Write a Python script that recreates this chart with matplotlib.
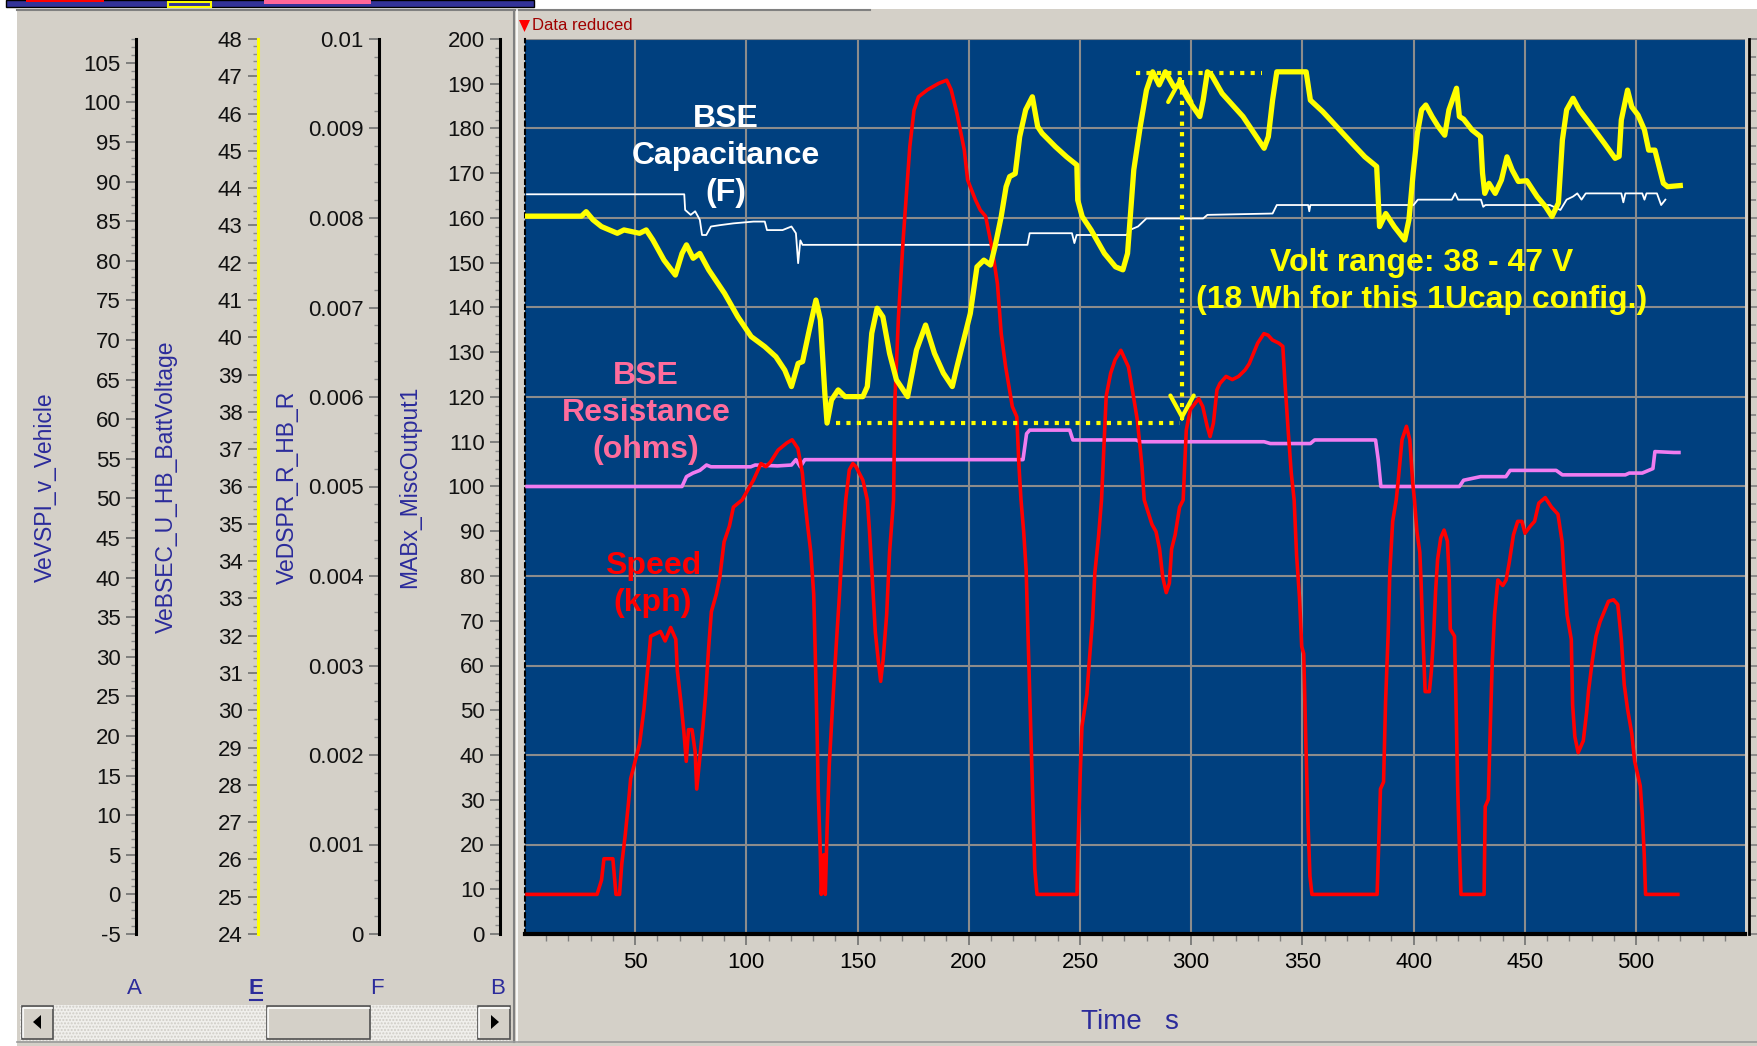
import matplotlib
matplotlib.use('Agg')
import matplotlib.pyplot as plt
from matplotlib.patches import Rectangle, Polygon
from matplotlib.lines import Line2D
from matplotlib.ticker import MultipleLocator, FuncFormatter

plt.rcParams['font.family'] = ['Liberation Sans', 'DejaVu Sans']

# ---- values ----
# vehicle speed, kph (axis A)
speed_t = [1.4, 32.9, 34.9, 36, 40, 41.4, 43, 44, 45.6, 47, 48, 52, 54, 55, 57, 61.4, 63.5, 66, 68.3, 69,
           70.6, 72, 73, 74, 75.6, 77, 77.7, 79.4, 80.5, 81.7, 83.1, 84.3, 86.5, 88.1, 90, 92.4, 94.2, 98.1,
           103.2, 106.6, 108.8, 110.9, 114.3, 118.2, 120.6, 123.2, 125.2, 126.3, 127.5, 129, 130.3, 131,
           131.9, 132.3, 133.2, 133.7, 134.8, 135.5, 136.3, 137.3, 138.7, 140.3, 141.8, 143.3, 144.7, 146.3,
           147.9, 149.3, 152.4, 154.4, 155.4, 156.5, 158, 159.5, 160.4, 161.5, 163.1, 164.4, 166.2, 166.8,
           168.4, 170.5, 173.5, 175.4, 177.4, 181.5, 186.5, 190.1, 192.1, 194.7, 198, 199.5, 203, 205.2,
           207.6, 210.6, 212.9, 214.6, 216.6, 219.6, 221.6, 222.6, 223.5, 224.7, 225.8, 226.7, 227.7, 228.7,
           229.7, 230.7, 248.7, 249.1, 250.1, 250.9, 253.1, 254.1, 255.7, 256.7, 258.3, 259.7, 261.8, 263.8,
           265.8, 268.4, 271.8, 273.8, 275.8, 277.9, 278.9, 282.4, 284.2, 285.8, 287.2, 288.8, 290.2, 291.2,
           292.8, 294.8, 296.4, 297.8, 299.6, 303.4, 305.2, 307.2, 308.5, 310, 311.6, 312.9, 315.7, 318.5,
           321.3, 324.2, 326.1, 328, 329.9, 332.7, 334.6, 336.5, 339.4, 341.2, 342.2, 343.7, 345, 346.3,
           347.4, 348.7, 349.7, 350.6, 351.5, 352.5, 353.4, 354.3, 383.6, 384.2, 385.1, 386.5, 387.4, 388.6,
           389.3, 390.6, 392.2, 393, 394.8, 396.8, 398.3, 399.6, 400.4, 401.5, 402.8, 403.4, 404.3, 405.2,
           407.1, 408, 409, 409.9, 410.8, 412.2, 413.7, 415.2, 416, 416.5, 418.4, 419, 419.8, 420.7, 421.3,
           431.7, 432.2, 433.6, 434.5, 435.4, 436.4, 437.9, 440.1, 441.6, 443, 444.9, 446.8, 448.7, 450.1,
           452.5, 454.4, 456.3, 459.2, 462, 464.9, 466.8, 467.7, 469, 470.9, 471.5, 472.5, 474, 476.3, 477.8,
           478.7, 480.4, 482, 483.8, 485.7, 487.6, 489.9, 491.8, 493.4, 494.7, 496.2, 498.1, 499.4, 501.9,
           502.8, 503.7, 504.3, 518.8]
speed_kph = [0, 0, 1.8, 4.5, 4.5, 0, 0, 3.8, 7.6, 11.5, 14.6, 19, 23.4, 26.5, 32.6, 33.2, 32, 33.7, 32.2, 28.2,
             24.3, 20.3, 16.8, 20.8, 20.8, 18, 13.3, 18.1, 21.2, 25.2, 31.3, 35.7, 37.9, 40.1, 44.5, 46.5, 48.9,
             49.8, 52.3, 54.4, 54, 54.6, 56.1, 57, 57.4, 56.3, 53.2, 49.8, 46.7, 43.2, 37.9, 30.4, 19.4, 13.3,
             5.8, 0, 5, 0, 8, 16.4, 23.4, 30.9, 37.5, 44.5, 49.8, 53.6, 54.4, 54, 52.3, 49.8, 45.8, 40.6, 33.1,
             29.1, 26.9, 29.6, 35.3, 43.2, 49.8, 62.4, 72.9, 82.6, 94.4, 99, 100.7, 101.6, 102.4, 102.8, 101.6,
             98.6, 94, 90.2, 87.7, 86.4, 85.6, 81.4, 77.1, 70.8, 66.6, 61.6, 60.3, 54, 49.8, 45.8, 41, 32.2,
             22.5, 12.8, 3.2, 0, 0, 5.8, 15, 21.2, 25.2, 29.1, 34.8, 40.6, 45, 49.8, 62.9, 65.8, 67.5, 68.7,
             66.6, 63.3, 59.9, 54, 49.8, 46.7, 45.8, 43.6, 40.1, 38.1, 39.3, 43.6, 45.4, 48.9, 49.8, 58.6, 61.2,
             62.6, 61.6, 59.1, 57.8, 59.5, 63.7, 64.5, 65.4, 65, 65.4, 66.2, 67, 68.3, 69.6, 70.8, 70.6, 70,
             69.6, 69.2, 64.5, 58.2, 53.2, 49.8, 42.8, 37.5, 31.3, 30.4, 19.9, 9.3, 2.3, 0, 0, 5.4, 13.3, 14.2,
             24.3, 33.1, 40.6, 47.1, 49.8, 52, 57.4, 59.1, 57.4, 52, 49.8, 45.8, 43.2, 39.2, 31.8, 25.6, 25.6,
             28.2, 32.6, 38.3, 42.3, 45, 46, 44.6, 40.1, 33.5, 32.6, 25.2, 13.7, 5, 0, 0, 11.1, 12, 21.2, 29.6,
             35.3, 39.7, 39, 39.7, 41.9, 45.4, 47.1, 47.1, 45.6, 46.5, 47.1, 49.4, 50.1, 48.9, 48, 44.5, 40.1,
             35.3, 32.2, 23.9, 19.9, 17.9, 19.4, 23, 25.8, 29.6, 32.6, 34.4, 35.7, 37, 37.2, 36.6, 32.2, 26.5,
             23.4, 20.3, 16.8, 13.7, 10.2, 5, 0, 0]

# BSE battery voltage, V (axis E)
volt_t = [1.4, 25.9, 28, 31.1, 34.9, 42, 45, 52, 55, 58, 63, 68.1, 71.1, 73.1, 76.1, 79.1, 83.1, 90.2, 96.2,
          102.2, 108.3, 113.3, 117.3, 120.3, 123.3, 125.3, 128, 131.3, 133.3, 135.3, 136.3, 138.3, 141.3,
          144.4, 152.4, 154.4, 156.4, 158.8, 161.4, 164.4, 167.5, 172.5, 176.5, 180.6, 184.6, 188.6, 192.6,
          194.7, 197.7, 200.7, 203.7, 206.8, 209.8, 211.8, 214.6, 216.8, 218.4, 220.9, 222.9, 225.6, 228.6,
          231, 233, 239, 244, 248.6, 249, 251, 255, 261, 266, 269.3, 271.4, 274.2, 277.1, 279.9, 282.7,
          285.6, 288.4, 292.2, 295, 298.8, 303.9, 305.4, 307.3, 309.2, 313.9, 323.3, 332.8, 334.7, 336.6,
          338.5, 351.7, 353.6, 359.2, 366.8, 372.4, 378.1, 383.4, 384.1, 384.7, 387.5, 391.3, 396, 397.9,
          399.8, 401.7, 403.6, 405.5, 408.3, 411.1, 414, 415.9, 419.3, 420.6, 422.5, 426.3, 430.1, 431, 432,
          433.9, 436.7, 439.5, 442, 444.3, 447.1, 450.9, 455.6, 459.4, 462.2, 465.1, 466.9, 468.8, 471.7,
          474.5, 480.2, 485.8, 490.6, 492.4, 493.4, 496.2, 498.1, 500.9, 503.8, 505.7, 508.5, 510.4, 512.3,
          514.2, 519.9]
volt_v = [43.25, 43.25, 43.37, 43.15, 42.97, 42.79, 42.88, 42.79, 42.88, 42.61, 42.07, 41.67, 42.25, 42.48,
          42.12, 42.25, 41.81, 41.18, 40.55, 40.02, 39.75, 39.48, 39.12, 38.68, 39.3, 39.35, 40.11, 41,
          40.47, 38.5, 37.7, 38.32, 38.59, 38.41, 38.41, 38.68, 40.11, 40.78, 40.55, 39.57, 38.86, 38.41,
          39.66, 40.33, 39.57, 39.04, 38.68, 39.21, 39.93, 40.64, 41.89, 42.07, 41.94, 42.43, 43.24, 44.04,
          44.31, 44.39, 45.38, 46.1, 46.45, 45.65, 45.47, 45.11, 44.84, 44.62, 43.68, 43.24, 42.88, 42.25,
          41.89, 41.81, 42.25, 44.49, 45.65, 46.63, 47.12, 46.77, 47.12, 46.72, 46.75, 46.36, 45.92, 46.36,
          47.12, 47.03, 46.54, 45.92, 45.07, 45.38, 46.36, 47.12, 47.12, 46.36, 46.05, 45.56, 45.2, 44.84,
          44.58, 43.68, 42.97, 43.32, 42.97, 42.61, 43.15, 44.4, 45.47, 46.1, 46.23, 45.92, 45.65, 45.42,
          46.1, 46.68, 45.92, 45.85, 45.56, 45.38, 44.4, 43.86, 44.13, 43.86, 44.22, 44.84, 44.49, 44.18,
          44.2, 43.77, 43.5, 43.24, 43.6, 45.29, 46.1, 46.41, 46.1, 45.65, 45.2, 44.8, 44.85, 45.83, 46.63,
          46.18, 45.96, 45.56, 45.02, 45.02, 44.58, 44.13, 44.04, 44.07]

# BSE capacitance, F (axis B)
cap_t = [1.4, 72.1, 72.5, 75, 77, 79.1, 80.1, 82, 84.1, 88.1, 94.2, 103.2, 108.3, 109.3, 116.3, 120.3, 122.3,
         123.3, 124.3, 125.3, 226.4, 227.4, 246.4, 247.5, 248.5, 271.1, 272.3, 276.1, 279.9, 305.4, 307.3,
         336.6, 338.5, 352.6, 353.1, 353.6, 400, 401.9, 417.2, 418.7, 420, 430.3, 431.3, 432.3, 461.3, 466,
         468.8, 471.7, 473.6, 475.5, 477.4, 493.4, 494.3, 495.2, 502.8, 503.8, 504.7, 509.4, 511.3, 513.2]
cap_f = [165.3, 165.3, 161.8, 160.7, 161.5, 159.6, 156.2, 156.2, 158.1, 158.4, 158.8, 159.2, 159.2, 157.3,
         157.3, 158.1, 156.6, 149.9, 155, 154, 154, 156.6, 156.6, 154.4, 156.2, 156.2, 157.3, 158.1, 159.9,
         159.9, 160.7, 161, 162.9, 162.9, 161.5, 162.9, 162.9, 164.1, 164.1, 165.5, 164.1, 164.1, 162.5,
         162.9, 162.9, 161.8, 164.1, 164.8, 165.5, 164.1, 165.5, 165.5, 163.5, 165.5, 165.5, 164.1, 165.5,
         165.5, 162.9, 164.1]

# BSE resistance, ohms (axis F)
res_t = [1.4, 71.1, 73.1, 76, 79.1, 82.1, 84.1, 102, 104, 114, 120.3, 122.3, 124.3, 126.3, 224.4, 226, 227.4,
         245.4, 246.8, 275.1, 277.1, 332.8, 335.6, 353.6, 355.5, 382.9, 384.1, 385.3, 420.6, 422.5, 430.1,
         441.5, 443.4, 464.1, 466.9, 495.2, 497, 502.8, 507.6, 508.5, 517, 519.3]
res_ohm = [0.0050, 0.0050, 0.00511, 0.00515, 0.00518, 0.00524, 0.00522, 0.00522, 0.00524, 0.00523, 0.00524,
           0.0053, 0.00522, 0.0053, 0.0053, 0.00559, 0.00563, 0.00563, 0.00552, 0.00552, 0.0055, 0.0055,
           0.00548, 0.00548, 0.00552, 0.00552, 0.0053, 0.0050, 0.0050, 0.00507, 0.00511, 0.00511, 0.00518,
           0.00518, 0.00513, 0.00513, 0.00515, 0.00515, 0.0052, 0.00539, 0.00538, 0.00538]

# volt range marked on the chart
volt_min, volt_max = 37.7, 47.1
span_low_t = [140.3, 294.9]
span_high_t = [275.1, 331.7]
arrow_t = 295.9

W, H = 1758, 1046
PANEL = '#D4D0C8'
PLOT_BG = '#00407F'
NAVY = '#2B2B9B'
YELLOW = '#FFFF00'

fig = plt.figure(figsize=(W / 100, H / 100), dpi=100, facecolor=PANEL)


def box(x, y, w, h):
    return [x / W, 1 - (y + h) / H, w / W, h / H]


def rect(x, y, w, h, **kw):
    fig.add_artist(Rectangle((x / W, 1 - (y + h) / H), w / W, h / H, transform=fig.transFigure, **kw))


def line(xs, ys, **kw):
    fig.add_artist(Line2D([x / W for x in xs], [1 - y / H for y in ys], transform=fig.transFigure, **kw))


def poly(pts, **kw):
    fig.add_artist(Polygon([(x / W, 1 - y / H) for x, y in pts], transform=fig.transFigure, **kw))


# window chrome
rect(0, 0, W, 9, fc='white', lw=0)
rect(0, 9, 17, H, fc='white', lw=0)
rect(6, 0, 528, 7, fc='#333399', ec='black', lw=1)
rect(26, 0, 78, 1.5, fc='red', lw=0)
rect(168, 2, 43, 5, fc='none', ec=YELLOW, lw=1.5)
rect(264, 0, 107, 3.5, fc='#FF6699', lw=0)
line([17, 870], [10, 10], color='#808080', lw=1.5)
line([514, 514], [10, 1042], color='#808080', lw=1.5)
line([517, 517], [10, 1042], color='white', lw=1.2)
line([17, W], [1042, 1042], color='#9A9A9A', lw=1.2)

# ---- main plot ----
ax = fig.add_axes(box(525, 39, 1220, 895))
ax.set_facecolor(PLOT_BG)
ax_res = ax.twinx()
ax_spd = ax.twinx()
ax_v = ax.twinx()
for a, lo, hi, z in ((ax_res, 0, 0.01, 2), (ax_spd, -5, 108, 3), (ax_v, 24, 48, 4)):
    a.set_ylim(lo, hi)
    a.set_axis_off()
    a.set_zorder(z)

ax.set_xlim(0.5, 549)
ax.set_ylim(0, 200)
ax.plot(cap_t, cap_f, color='white', lw=1.3)
ax_res.plot(res_t, res_ohm, color='#F07CF0', lw=2.6)
ax_spd.plot(speed_t, speed_kph, color='#FF0000', lw=2.6)
ax_v.plot(volt_t, volt_v, color=YELLOW, lw=3.8)

dots = dict(color=YELLOW, lw=3, linestyle=(0, (1, 1.5)))
ax_v.plot(span_low_t, [volt_min, volt_min], **dots)
ax_v.plot(span_high_t, [volt_max, volt_max], **dots)
ax_v.plot([arrow_t, arrow_t], [volt_max - 0.2, volt_min + 0.2], **dots)
head = dict(arrowstyle='->, head_length=0.55, head_width=0.3', color=YELLOW, lw=3,
            mutation_scale=28, shrinkA=0, shrinkB=0)
ax_v.annotate('', xy=(arrow_t - 1, volt_max - 0.1), xytext=(arrow_t - 1, volt_max - 0.2), arrowprops=head)
ax_v.annotate('', xy=(arrow_t, volt_min + 0.05), xytext=(arrow_t, volt_min + 0.15), arrowprops=head)

lbl = dict(transform=ax.transData, ha='center', va='center', fontsize=23, fontweight='bold', linespacing=1.3)
ax_v.text(90.6, 173.8, 'BSE\nCapacitance\n(F)', color='white', **lbl)
ax_v.text(54.9, 116.5, 'BSE\nResistance\n(ohms)', color='#FF6C9C', **lbl)
ax_v.text(57.9, 78, 'Speed\n(kph)', color='#FF0000', **lbl)
ax_v.text(403.7, 145.8, 'Volt range: 38 - 47 V\n(18 Wh for this 1Ucap config.)', color=YELLOW, **lbl)

ax.xaxis.set_major_locator(MultipleLocator(50))
ax.xaxis.set_minor_locator(MultipleLocator(10))
ax.yaxis.tick_right()
ax.yaxis.set_major_locator(MultipleLocator(20))
ax.yaxis.set_minor_locator(MultipleLocator(4))
ax.tick_params(axis='x', which='major', length=8, width=1.2, color='#707070', labelsize=16, pad=5)
ax.tick_params(axis='x', which='minor', length=5, width=1, color='#808080')
ax.tick_params(axis='y', which='both', labelright=False, color='#808080', width=1.2)
ax.tick_params(axis='y', which='major', length=9)
ax.tick_params(axis='y', which='minor', length=5)
ax.grid(True, which='major', color='#8C8C8C', lw=1.5)
ax.spines['top'].set_visible(False)
ax.spines['right'].set_position(('outward', 3))
ax.spines['right'].set_linewidth(2)
ax.spines['left'].set_linestyle((0, (2, 2)))
ax.spines['left'].set_linewidth(1.5)
ax.spines['bottom'].set_linewidth(3)

fig.text(1130 / W, 1 - 1022 / H, 'Time   s', color=NAVY, fontsize=20, ha='center', va='center')
poly([(519, 20), (530, 20), (524.5, 32)], fc='red', lw=0)
fig.text(532 / W, 1 - 26 / H, 'Data reduced', color='#A00000', fontsize=12, va='center')


# ---- left panel: one scale per signal ----
def num(v, pos):
    return f'{round(v, 4) + 0.0:g}'


scales = [
    (136, -5, 108, 5, 1, 'black', 'VeVSPI_v_Vehicle', 45, 'A'),
    (258, 24, 48, 1, 0.2, YELLOW, 'VeBSEC_U_HB_BattVoltage', 166, 'E'),
    (379, 0, 0.01, 0.001, 0.0002, 'black', 'VeDSPR_R_HB_R', 287, 'F'),
    (500, 0, 200, 10, 2, 'black', 'MABx_MiscOutput1', 410, 'B'),
]
for xs, lo, hi, major, minor, spine_col, name, name_x, letter in scales:
    lax = fig.add_axes(box(xs, 39, 1, 895))
    lax.patch.set_visible(False)
    for s in ('top', 'right', 'bottom'):
        lax.spines[s].set_visible(False)
    lax.spines['left'].set_color(spine_col)
    lax.spines['left'].set_linewidth(2.2)
    lax.set_xticks([])
    lax.set_ylim(lo, hi)
    lax.yaxis.set_major_locator(MultipleLocator(major))
    lax.yaxis.set_minor_locator(MultipleLocator(minor))
    lax.yaxis.set_major_formatter(FuncFormatter(num))
    lax.tick_params(axis='y', which='major', length=7, width=1.2, color='#707070',
                    labelsize=16, pad=4, labelcolor='#111111')
    lax.tick_params(axis='y', which='minor', length=3.5, width=1, color='#8A8A8A')
    fig.text(name_x / W, 1 - 487 / H, name, rotation=90, ha='center', va='center', color=NAVY, fontsize=16.5)
    fig.text((xs - 2) / W, 1 - 989 / H, letter, ha='center', va='center', color=NAVY, fontsize=16,
             fontweight='bold' if letter == 'E' else 'normal')
line([250, 262], [1000, 1000], color=NAVY, lw=1.5)

# scroll bar
rect(20, 1005, 491, 36, fc='#F0EFEC', ec='#CFCCC6', hatch='.....', lw=0)
for bx, bw in ((22, 31), (267, 103), (478, 32)):
    rect(bx, 1006, bw, 33, fc=PANEL, ec='#505050', lw=1.2)
    line([bx + 1, bx + 1, bx + bw - 1], [1037, 1007.5, 1007.5], color='white', lw=1.2)
poly([(33, 1022), (41, 1015), (41, 1029)], fc='black', lw=0)
poly([(499, 1022), (491, 1015), (491, 1029)], fc='black', lw=0)

fig.savefig('out.png', dpi=100, facecolor=fig.get_facecolor())
